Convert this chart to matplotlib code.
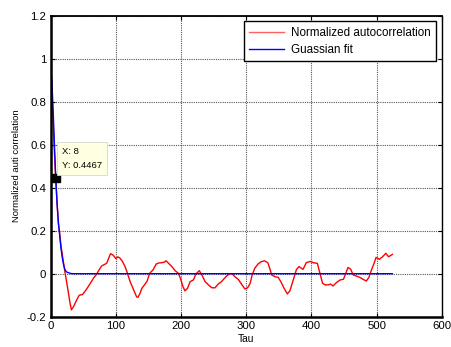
import matplotlib.pyplot as plt
import numpy as np

plt.rcParams["font.family"] = ["Liberation Sans", "DejaVu Sans"]

# Normalized autocorrelation (red) and its Gaussian fit (blue)
tau_acf = [0, 2, 4, 6, 8, 10, 12, 14, 16, 18, 20, 22, 24, 26, 28, 30, 32, 35,
           40, 44, 49, 55, 61, 66, 70, 74, 78, 82, 86, 89, 92, 96, 100, 103,
           106, 110, 114, 117, 122, 127, 132, 134, 137, 140, 144, 148, 152, 157,
           162, 166, 170, 174, 177, 181, 186, 191, 196, 199, 203, 206, 210, 214,
           219, 223, 228, 232, 237, 242, 247, 252, 257, 262, 267, 271, 275, 278,
           283, 288, 293, 298, 302, 306, 309, 313, 318, 323, 328, 333, 336, 339,
           344, 349, 353, 358, 363, 367, 372, 377, 381, 387, 392, 398, 403, 409,
           413, 417, 421, 426, 429, 433, 438, 444, 449, 453, 456, 460, 464, 469,
           474, 479, 484, 488, 492, 496, 499, 504, 509, 514, 518, 520, 524]
acf = [1.0, 0.85, 0.70, 0.56, 0.4467, 0.33, 0.235, 0.19, 0.13, 0.09, 0.05, 0.01,
       -0.025, -0.062, -0.1, -0.138, -0.168, -0.155, -0.123, -0.1, -0.097,
       -0.073, -0.045, -0.02, -0.005, 0.015, 0.035, 0.042, 0.048, 0.07, 0.093,
       0.086, 0.07, 0.078, 0.074, 0.058, 0.035, 0.01, -0.037, -0.072, -0.108,
       -0.11, -0.093, -0.068, -0.052, -0.035, 0.002, 0.017, 0.045, 0.05, 0.051,
       0.053, 0.06, 0.048, 0.033, 0.014, 0.002, -0.021, -0.06, -0.08, -0.068,
       -0.037, -0.029, -0.001, 0.014, -0.006, -0.037, -0.052, -0.065, -0.066,
       -0.048, -0.037, -0.02, -0.008, 0.0, 0.0, -0.015, -0.027, -0.05, -0.071,
       -0.066, -0.045, -0.006, 0.025, 0.045, 0.056, 0.06, 0.051, 0.025, -0.006,
       -0.014, -0.017, -0.037, -0.068, -0.094, -0.079, -0.029, 0.02, 0.033, 0.02,
       0.051, 0.057, 0.051, 0.048, 0.002, -0.045, -0.052, -0.052, -0.048, -0.057,
       -0.042, -0.029, -0.026, 0.005, 0.029, 0.021, -0.006, -0.011, -0.017,
       -0.026, -0.034, -0.017, 0.018, 0.049, 0.076, 0.067, 0.079, 0.095, 0.079,
       0.082, 0.09]

tau_fit = [0, 2, 4, 6, 8, 10, 12, 14, 16, 18, 20, 22, 24, 26, 31, 35, 524]
fit = [0.96, 0.9, 0.76, 0.6, 0.4467, 0.33, 0.24, 0.18, 0.12, 0.075, 0.042, 0.02,
       0.01, 0.006, 0.001, 0.0, 0.0]

tip_x, tip_y = 8, 0.4467

fig = plt.figure(figsize=(4.51, 3.47), dpi=100)
ax = fig.add_axes([0.112, 0.0873, 0.868, 0.8677])

ax.plot(tau_acf, acf, color="#ff0000", lw=1.0, label="Normalized autocorrelation")
ax.plot(tau_fit, fit, color="#0000ff", lw=1.0, label="Guassian fit")

# data tip
ax.plot([tip_x], [tip_y], marker="s", ms=6, color="black", zorder=5)
ax.annotate(f"X: {tip_x}\nY: {tip_y}", xy=(tip_x, tip_y), xytext=(6, 8),
            textcoords="offset pixels", ha="left", va="bottom", fontsize=6.8,
            linespacing=1.7,
            bbox=dict(boxstyle="square,pad=0.55", fc="#ffffe1", ec="#d8d8c8", lw=0.6),
            zorder=6)

ax.set_xlim(0, 600)
ax.set_ylim(-0.2, 1.2)
ax.set_xticks(np.arange(0, 601, 100))
ax.set_yticks([-0.2, 0, 0.2, 0.4, 0.6, 0.8, 1, 1.2])
ax.set_yticklabels(["-0.2", "0", "0.2", "0.4", "0.6", "0.8", "1", "1.2"])
ax.tick_params(direction="in", length=3, labelsize=8.2, top=True, right=True,
               labeltop=False, labelright=False, pad=3)
ax.grid(True, color="#555555", linestyle=(0, (1, 1)), linewidth=0.8)

ax.spines["left"].set_linewidth(1.8)
ax.spines["bottom"].set_linewidth(1.8)
ax.spines["top"].set_linewidth(1.3)
ax.spines["right"].set_linewidth(1.0)

ax.set_xlabel("Tau", fontsize=7.4, labelpad=2)
ax.set_ylabel("Normalized auti correlation", fontsize=6.8, labelpad=4)

leg = ax.legend(loc="upper right", fontsize=8.4, fancybox=False, framealpha=1,
                edgecolor="black", handlelength=3.0, borderaxespad=0.5,
                handletextpad=0.6, labelspacing=0.45, borderpad=0.45)
leg.get_frame().set_linewidth(1.0)
leg.get_lines()[0].set_color("#ff6060")

fig.savefig("out.png", dpi=100)
